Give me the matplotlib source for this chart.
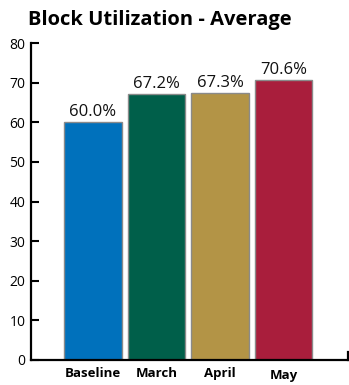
import matplotlib.pyplot as plt
import numpy as np

# Block utilization averages by period
periods = ['Baseline', 'March', 'April', 'May']
utilization = [60.0, 67.2, 67.3, 70.6]
bar_colors = ['#0071BC', '#005F4A', '#B39446', '#A91E3C']
y_ticks = [0, 10, 20, 30, 40, 50, 60, 70, 80]

plt.rcParams['font.family'] = ['Open Sans', 'DejaVu Sans']

fig = plt.figure(figsize=(3.49, 3.85), dpi=100)
ax = fig.add_axes([0.089, 0.065, 0.908, 0.823])

x = np.arange(len(periods))
bars = ax.bar(x, utilization, width=0.91, color=bar_colors,
              edgecolor='#8a8a8a', linewidth=1.0)

for xi, val in zip(x, utilization):
    ax.text(xi, val + 0.5, f'{val:.1f}%', ha='center', va='bottom',
            fontsize=12, color='#111111')

ax.set_xlim(-0.976, 4.016)
ax.set_ylim(0, 80)
ax.set_yticks(y_ticks)
ax.set_yticklabels([str(t) for t in y_ticks], fontsize=10)
ax.tick_params(axis='y', direction='in', length=6, width=1.5, pad=4)

ax.set_xticks(x)
ax.set_xticklabels(periods, fontsize=9.5, fontweight='bold')
ax.tick_params(axis='x', length=0, pad=5)
# last label sits slightly lower
ax.get_xticklabels()[3].set_y(-0.005)

ax.spines['top'].set_visible(False)
ax.spines['left'].set_linewidth(1.6)
ax.spines['bottom'].set_linewidth(1.6)
ax.spines['right'].set_linewidth(1.6)
ax.spines['right'].set_bounds(0, 2)

fig.text(0.08, 0.947, 'Block Utilization - Average', fontsize=14.5,
         fontweight='bold', ha='left', va='center')

fig.savefig('out.png', dpi=100)
